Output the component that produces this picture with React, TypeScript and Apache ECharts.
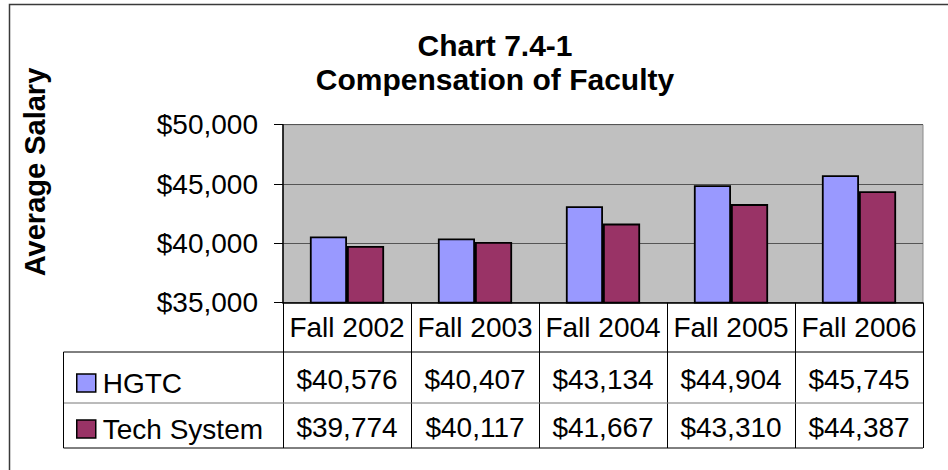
import React, { useEffect, useRef } from "react";
import * as echarts from "echarts";

const categories = ["Fall 2002", "Fall 2003", "Fall 2004", "Fall 2005", "Fall 2006"];
const hgtc = [40576, 40407, 43134, 44904, 45745];
const techSystem = [39774, 40117, 41667, 43310, 44387];
const seriesNames = ["HGTC", "Tech System"];
const yMin = 35000;
const yMax = 50000;
const yInterval = 5000;

const FONT = '"Liberation Sans", Arial, Helvetica, sans-serif';
const money = (v: number) => "$" + Math.round(v).toLocaleString("en-US");

export default function App() {
  const ref = useRef<HTMLDivElement>(null);
  useEffect(() => {
    if (!ref.current) return;
    const chart = echarts.init(ref.current, null, { renderer: "svg" });
    const gridLeft = 283;
    const gridTop = 124.7;
    const gridW = 640;
    const gridH = 178;
    const gridBottom = gridTop + gridH;
    const tableLeft = 63.5;
    const rowA = 352;
    const rowB = 403;
    const rowC = 448;
    const option: any = {
      animation: false,
      backgroundColor: "#ffffff",
      textStyle: { fontFamily: FONT },
      title: {
        text: "Chart 7.4-1\nCompensation of Faculty",
        left: 490,
        textAlign: "center",
        top: 23,
        textStyle: { fontFamily: FONT, fontSize: 30, fontWeight: "bold", color: "#000", lineHeight: 34 },
      },
      legend: {
        data: seriesNames,
        orient: "vertical",
        left: 71,
        top: 364,
        itemWidth: 19,
        itemHeight: 18,
        itemGap: 18,
        icon: "rect",
        itemStyle: { borderColor: "#000", borderWidth: 1.5 },
        textStyle: { fontFamily: FONT, fontSize: 28, color: "#000", padding: [0, 0, 0, 2] },
      },
      grid: {
        left: gridLeft,
        top: gridTop,
        width: gridW,
        height: gridH,
        show: true,
        backgroundColor: "#C0C0C0",
        borderColor: "#8a8a8a",
        borderWidth: 1,
      },
      xAxis: {
        type: "category",
        data: categories,
        axisLine: { lineStyle: { color: "#000", width: 1.5 } },
        axisTick: { show: true, length: rowC - gridBottom, lineStyle: { color: "#000", width: 1 } },
        axisLabel: {
          margin: 0,
          interval: 0,
          color: "#000",
          fontFamily: FONT,
          fontSize: 28,
          formatter: (value: string, idx: number) =>
            `{c|${value}}\n{h|${money(hgtc[idx])}}\n{t|${money(techSystem[idx])}}`,
          rich: {
            c: { fontFamily: FONT, fontSize: 28, color: "#000", lineHeight: 49 },
            h: { fontFamily: FONT, fontSize: 28, color: "#000", lineHeight: 55 },
            t: { fontFamily: FONT, fontSize: 28, color: "#000", lineHeight: 41 },
          },
        },
      },
      yAxis: {
        type: "value",
        min: yMin,
        max: yMax,
        interval: yInterval,
        axisLine: { show: true, lineStyle: { color: "#000", width: 1.5 } },
        axisTick: { show: true, length: 9, lineStyle: { color: "#000", width: 1 } },
        axisLabel: { margin: 25, color: "#000", fontFamily: FONT, fontSize: 28, formatter: (v: number) => money(v) },
        splitLine: { show: true, lineStyle: { color: "#555", width: 1.2 } },
      },
      series: [
        {
          name: seriesNames[0],
          type: "bar",
          data: hgtc,
          barGap: "0%",
          barCategoryGap: "42%",
          itemStyle: { color: "#9999FF", borderColor: "#000", borderWidth: 1.8 },
        },
        {
          name: seriesNames[1],
          type: "bar",
          data: techSystem,
          barGap: "0%",
          barCategoryGap: "42%",
          itemStyle: { color: "#993366", borderColor: "#000", borderWidth: 1.8 },
        },
      ],
      graphic: [
        {
          type: "text",
          silent: true,
          x: 35,
          y: 172,
          rotation: Math.PI / 2,
          style: {
            text: "Average Salary",
            fontFamily: FONT,
            fontSize: 29,
            fontWeight: "bold",
            fill: "#000",
            align: "center",
            verticalAlign: "middle",
          },
        },
        {
          type: "rect",
          silent: true,
          shape: { x: 9.5, y: 4.5, width: 1200, height: 800 },
          style: { fill: "none", stroke: "#3a3a3a", lineWidth: 1.5 },
          z: 100,
        },
        {
          type: "line",
          silent: true,
          shape: { x1: tableLeft, y1: rowA, x2: gridLeft + gridW, y2: rowA },
          style: { stroke: "#000", lineWidth: 1 },
          z: 100,
        },
        {
          type: "line",
          silent: true,
          shape: { x1: tableLeft, y1: rowB, x2: gridLeft + gridW, y2: rowB },
          style: { stroke: "#777", lineWidth: 1 },
          z: 100,
        },
        {
          type: "line",
          silent: true,
          shape: { x1: tableLeft, y1: rowC, x2: gridLeft + gridW, y2: rowC },
          style: { stroke: "#000", lineWidth: 1 },
          z: 100,
        },
        {
          type: "line",
          silent: true,
          shape: { x1: tableLeft, y1: rowA, x2: tableLeft, y2: rowC },
          style: { stroke: "#000", lineWidth: 1 },
          z: 100,
        },
      ],
    };
    chart.setOption(option);
    return () => chart.dispose();
  }, []);
  return (
    <div
      ref={ref}
      style={{ position: "fixed", left: 0, top: 0, width: 948, height: 470, background: "#fff" }}
    />
  );
}
